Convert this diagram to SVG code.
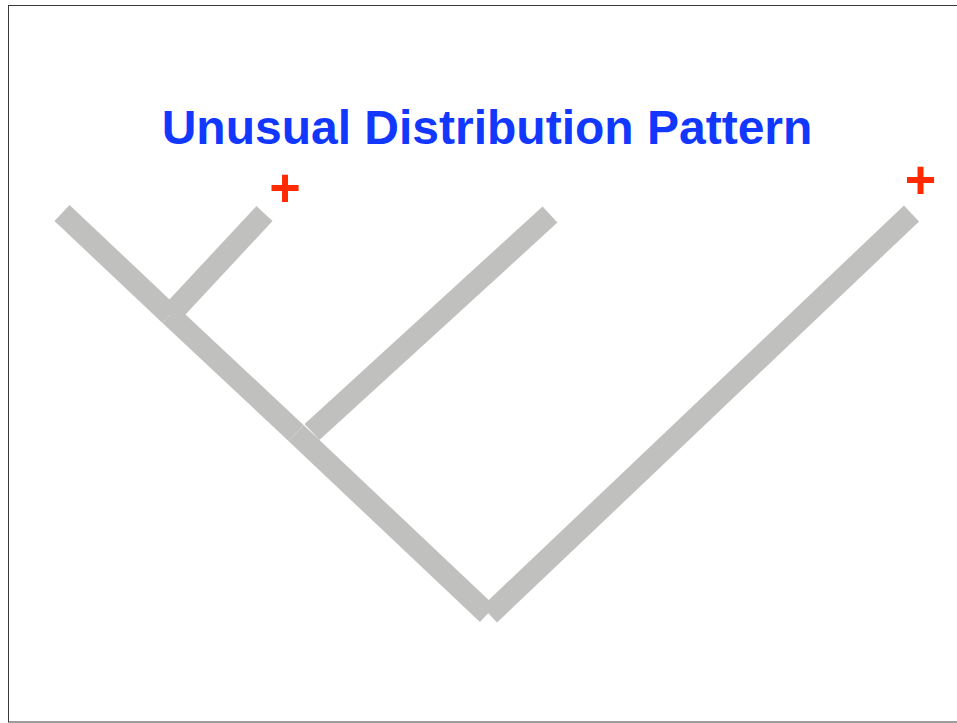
<svg xmlns="http://www.w3.org/2000/svg" width="957" height="723" viewBox="0 0 957 723">
  <style>
    .branch { stroke: #c0c1bf; stroke-width: 22; stroke-linecap: butt; fill: none; }
    .title { font-family: "Liberation Sans", Arial, Helvetica, sans-serif; font-weight: bold; font-size: 48px; fill: #1238ff; }
    .plus { font-family: "Liberation Sans", Arial, Helvetica, sans-serif; font-weight: bold; font-size: 54px; fill: #ff2a00; }
  </style>
  <rect x="0" y="0" width="957" height="723" fill="#ffffff"/>
  <rect x="8.5" y="5.5" width="960" height="716.5" fill="none" stroke="#3a3a3a" stroke-width="1"/>
  <g id="title">
    <text class="title" x="487" y="144" text-anchor="middle">Unusual Distribution Pattern</text>
  </g>
  <g id="connectors">
    <line class="branch" x1="62" y1="213" x2="170" y2="315"/>
    <line class="branch" x1="170" y1="315" x2="296" y2="433"/>
    <line class="branch" x1="296" y1="433" x2="487.5" y2="614"/>
    <line class="branch" x1="170" y1="315" x2="264.5" y2="213.5"/>
    <line class="branch" x1="312" y1="432" x2="550" y2="214.5"/>
    <line class="branch" x1="911.5" y1="213.5" x2="489.5" y2="614.5"/>
  </g>
  <g id="tip-plus-1">
    <text class="plus" x="285" y="206" text-anchor="middle">+</text>
  </g>
  <g id="tip-plus-2">
    <text class="plus" x="920.5" y="198" text-anchor="middle">+</text>
  </g>
</svg>
